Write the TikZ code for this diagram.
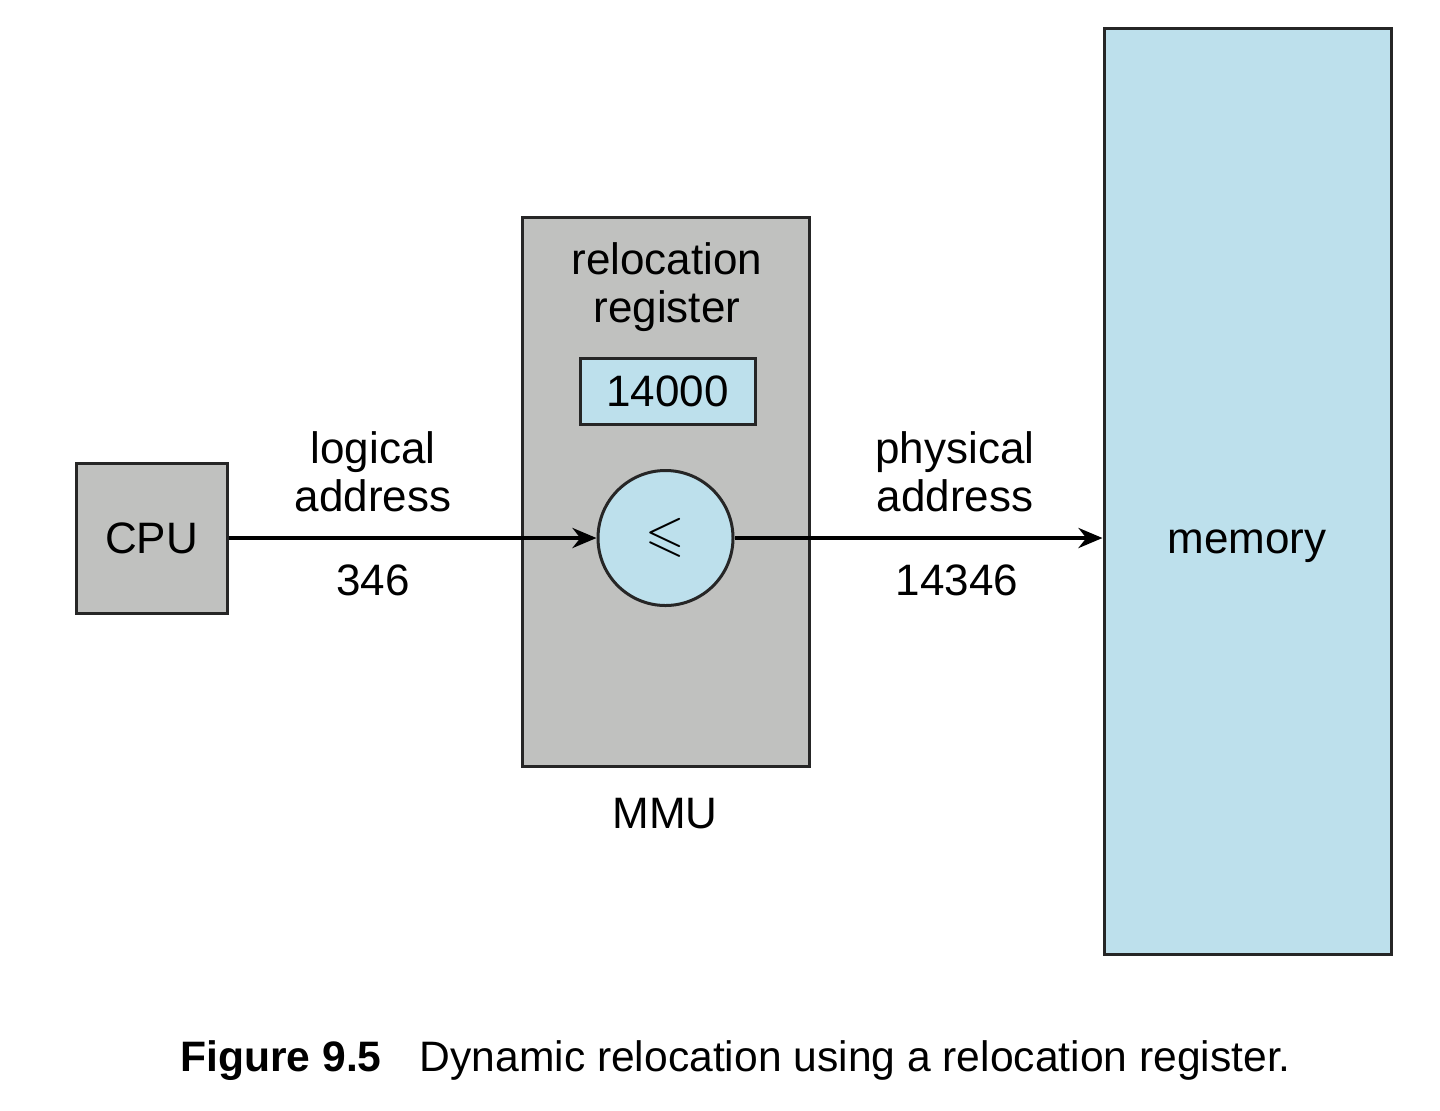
\documentclass[tikz,border=0pt]{standalone}
\usepackage{fontspec}
\setmainfont{Liberation Sans}
\usepackage{amssymb}
\usetikzlibrary{positioning, arrows.meta}

\definecolor{boxgray}{HTML}{C0C1BF}
\definecolor{memblue}{HTML}{BDE0EC}

\tikzset{
    unit/.style={draw=black!85, line width=1.5pt, inner sep=0pt},
    label/.style={align=center, font=\fontsize{22}{24}\selectfont},
}

\begin{document}
\begin{tikzpicture}[x=0.5pt, y=-0.5pt, >={Stealth[length=12pt, width=10pt]}]
        \useasboundingbox (0,0) rectangle (1440,1110);

        \node[unit, fill=boxgray] (cpu)      at (151.5,538)  [minimum width=75.5pt, minimum height=75pt] {};
        \node[unit, fill=boxgray] (mmu)      at (665.5,491.5) [minimum width=143.5pt, minimum height=274.5pt] {};
        \node[unit, fill=memblue] (reloc)    at (667.5,391)  [minimum width=87.5pt, minimum height=33pt] {};
        \node[unit, fill=memblue, circle] (adder) at (665.5,538) [minimum size=67.5pt] {};
        \node[unit, fill=memblue] (memory)   at (1247.5,491) [minimum width=143.5pt, minimum height=463pt] {};

        % texts
        \node[label] (cpu_text)    at (cpu)          {CPU};
        \node[label] (reloc_value) at (reloc)        {14000};
        \node[label] (adder_sign)  at (adder)        {\scalebox{1.15}{$\leqslant$}};
        \node[label] (memory_text) at (1247,546)     {memory};
        \node[label] (reloc_text)  at (667,287)      {relocation\\register};
        \node[label] (mmu_text)    at (665,814)      {MMU};
        \node[label] (logical)     at (373,472)      {logical\\address};
        \node[label] (logical_val) at (373,580)      {346};
        \node[label] (physical)    at (955,472)      {physical\\address};
        \node[label] (physical_val) at (957,580)     {14346};

        \path[->, line width=2.2pt] (cpu.east)   edge (adder.west)
                                    (adder.east) edge (adder.east -| memory.west);

        % caption
        \node[anchor=base west, inner sep=0pt, font=\fontsize{21.3}{24}\selectfont] (caption) at (180,1071)
            {\textbf{Figure 9.5}\hspace{19pt}Dynamic relocation using a relocation register.};
    \end{tikzpicture}
\end{document}
